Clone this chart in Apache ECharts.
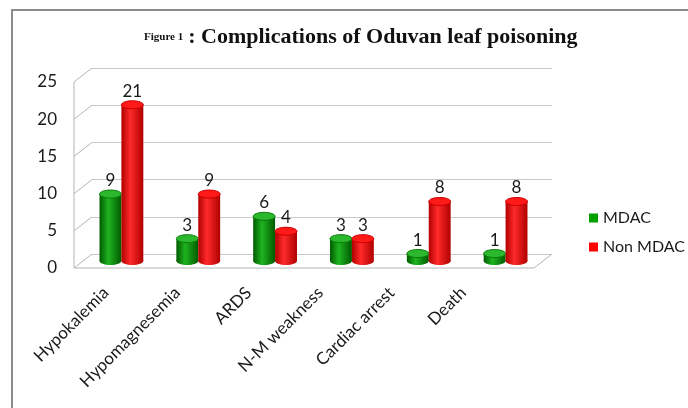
<!DOCTYPE html>
<html>
<head>
<meta charset="utf-8">
<script src="https://cdn.jsdelivr.net/npm/echarts@6/dist/echarts.min.js"></script>
<style>
html, body { margin: 0; padding: 0; background: #fff; }
#chart { width: 688px; height: 408px; }
</style>
</head>
<body>
<div id="chart"></div>
<script>
// data
const categories = ['Hypokalemia', 'Hypomagnesemia', 'ARDS', 'N-M weakness', 'Cardiac arrest', 'Death'];
const mdac = [9, 3, 6, 3, 1, 1];
const nonMdac = [21, 9, 4, 3, 8, 8];
const yTicks = [0, 5, 10, 15, 20, 25];

const FONT = 'Lato, "Open Sans", sans-serif';
const DX = 18, DY = 14; // fake 3D depth

// shading for the cylinders
const shades = {
    green: { dark: '#005a00', mid: '#1fb41f', top: '#2cb82c', rim: '#0a7a0a' },
    red: { dark: '#b00000', mid: '#ff2a2a', top: '#ff1a1a', rim: '#c80000' }
};

function cylinder(side, sh) {
    return function (params, api) {
        var cat = api.value(0), val = api.value(1);
        var top = api.coord([cat, val]);
        var base = api.coord([cat, 0]);
        var w = api.size([1, 0])[0] * 0.285;
        var x0 = side < 0 ? top[0] - w : top[0];
        var cx = x0 + w / 2;
        var ry = 4;
        var grad = new echarts.graphic.LinearGradient(0, 0, 1, 0, [
            { offset: 0, color: sh.dark },
            { offset: 0.4, color: sh.mid },
            { offset: 1, color: sh.dark }
        ]);
        return {
            type: 'group',
            children: [
                { type: 'ellipse', shape: { cx: cx, cy: base[1], rx: w / 2, ry: ry }, style: { fill: grad } },
                { type: 'rect', shape: { x: x0, y: top[1], width: w, height: base[1] - top[1] }, style: { fill: grad } },
                { type: 'ellipse', shape: { cx: cx, cy: top[1], rx: w / 2, ry: ry }, style: { fill: sh.top, stroke: sh.rim, lineWidth: 1 } },
                {
                    type: 'text',
                    style: {
                        text: String(val), x: cx, y: top[1] - ry - 1,
                        align: 'center', verticalAlign: 'bottom',
                        fontFamily: FONT, fontSize: 17, fill: '#1a1a1a'
                    }
                }
            ]
        };
    };
}

var chart = echarts.init(document.getElementById('chart'));

var option = {
    animation: false,
    color: ['#00a000', '#ff0000'],
    title: {
        text: '{a|Figure 1} {b|: Complications of Oduvan leaf poisoning}',
        left: 139,
        top: 21,
        textStyle: {
            rich: {
                a: { fontFamily: '"Liberation Serif", serif', fontWeight: 'bold', fontSize: 11, color: '#111' },
                b: { fontFamily: '"Liberation Serif", serif', fontWeight: 'bold', fontSize: 22, color: '#111' }
            }
        }
    },
    legend: {
        orient: 'vertical',
        left: 584,
        top: 205,
        icon: 'rect',
        itemWidth: 9,
        itemHeight: 9,
        itemGap: 13,
        textStyle: { fontFamily: FONT, fontSize: 16, color: '#1a1a1a' },
        data: ['MDAC', 'Non MDAC']
    },
    grid: [
        { left: 83, right: 144, top: 75, bottom: 147 },   // bars (mid depth)
        { left: 92, right: 136, top: 68, bottom: 154 },   // back wall
        { left: 74, right: 155, top: 82, bottom: 140 },   // front value labels
        { left: 70, right: 189, top: 75, bottom: 147 }    // category labels
    ],
    xAxis: [
        { gridIndex: 0, type: 'category', data: categories, show: false },
        { gridIndex: 1, type: 'category', data: categories, show: false },
        { gridIndex: 2, type: 'category', data: categories, show: false },
        {
            gridIndex: 3, type: 'category', data: categories,
            axisLine: { show: false }, axisTick: { show: false },
            axisLabel: { rotate: 45, margin: 29, interval: 0, fontFamily: FONT, fontSize: 17, color: '#1a1a1a' }
        }
    ],
    yAxis: [
        { gridIndex: 0, type: 'value', min: 0, max: 25, interval: 5, show: false },
        {
            gridIndex: 1, type: 'value', min: 0, max: 25, interval: 5,
            axisLine: { show: false }, axisTick: { show: false }, axisLabel: { show: false },
            splitLine: { lineStyle: { color: '#c8c8c8', width: 1 } }
        },
        {
            gridIndex: 2, type: 'value', min: 0, max: 25, interval: 5,
            axisLine: { show: false }, axisTick: { show: false }, splitLine: { show: false },
            axisLabel: { margin: 17, fontFamily: FONT, fontSize: 17, color: '#1a1a1a' }
        },
        { gridIndex: 3, type: 'value', min: 0, max: 25, show: false }
    ],
    series: [
        {
            name: 'MDAC', type: 'custom', xAxisIndex: 0, yAxisIndex: 0,
            renderItem: cylinder(-1, shades.green),
            encode: { x: 0, y: 1 },
            data: mdac.map(function (v, i) { return [i, v]; }),
            z: 3
        },
        {
            name: 'Non MDAC', type: 'custom', xAxisIndex: 0, yAxisIndex: 0,
            renderItem: cylinder(1, shades.red),
            encode: { x: 0, y: 1 },
            data: nonMdac.map(function (v, i) { return [i, v]; }),
            z: 4
        }
    ]
};

chart.setOption(option);

// frame: outer border plus the side wall and floor of the 3D box
var backLeft = 92, backRight = 552;
var lines = [];
yTicks.forEach(function (v) {
    var yb = chart.convertToPixel({ yAxisIndex: 1 }, v);
    lines.push([[backLeft - DX, yb + DY], [backLeft, yb]]);
});
var y0 = chart.convertToPixel({ yAxisIndex: 1 }, 0);
var y25 = chart.convertToPixel({ yAxisIndex: 1 }, 25);
lines.push([[backLeft - DX, y0 + DY], [backLeft - DX, y25 + DY]]);
lines.push([[backLeft - DX, y0 + DY], [backRight - DX, y0 + DY]]);
lines.push([[backRight - DX, y0 + DY], [backRight, y0]]);

var graphics = lines.map(function (p) {
    return {
        type: 'line', z: 1,
        shape: { x1: p[0][0], y1: p[0][1], x2: p[1][0], y2: p[1][1] },
        style: { stroke: '#b4b4b4', lineWidth: 1 }
    };
});
graphics.push({
    type: 'polyline', z: 0,
    shape: { points: [[12, 408], [12, 10], [688, 10]] },
    style: { stroke: '#8c8c8c', lineWidth: 2, fill: null }
});
chart.setOption({ graphic: graphics });
</script>
</body>
</html>
